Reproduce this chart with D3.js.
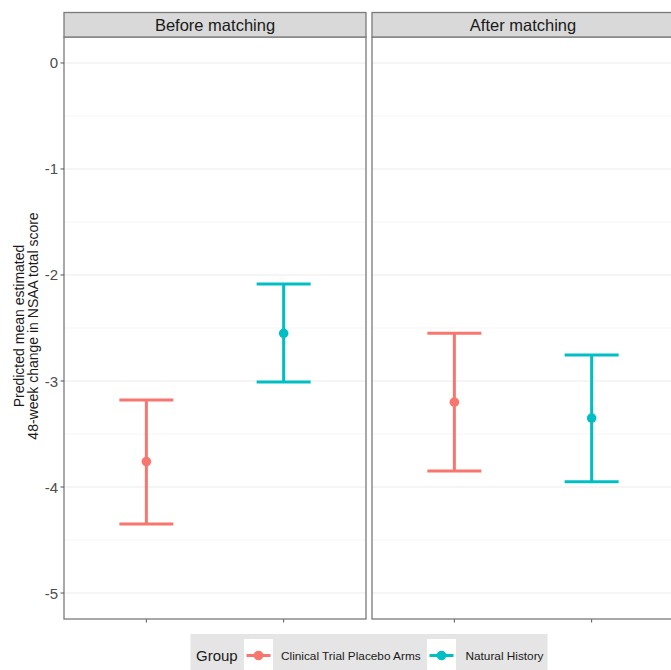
<!DOCTYPE html>
<html><head><meta charset="utf-8">
<script src="https://cdn.jsdelivr.net/npm/d3@7"></script>
<style>body{margin:0;background:#fff}svg{display:block;font-family:"Liberation Sans",Arial,sans-serif}</style>
</head><body><svg id="c" width="671" height="670"></svg>
<script>
const panels = ["Before matching", "After matching"];
const groups = ["Clinical Trial Placebo Arms", "Natural History"];
const colors = ["#F8766D", "#00BFC4"];
const estimate = [[-3.76, -2.55], [-3.20, -3.35]];
const upper = [[-3.18, -2.085], [-2.55, -2.755]];
const lower = [[-4.35, -3.01], [-3.85, -3.95]];
const yTicks = [0, -1, -2, -3, -4, -5];
const yMinor = [-0.5, -1.5, -2.5, -3.5, -4.5];

const svg = d3.select("#c");
const pTop = 37, pBottom = 619, panelW = 302, gap = 6, left0 = 64;
const y = d3.scaleLinear().domain([-5.245, 0.245]).range([pBottom, pTop]);

panels.forEach((p, i) => {
  const x0 = left0 + i * (panelW + gap);
  const x = d3.scalePoint().domain(groups).range([x0, x0 + panelW]).padding(0.6);
  const g = svg.append("g");
  g.append("rect").attr("x", x0).attr("y", pTop).attr("width", panelW).attr("height", pBottom - pTop).attr("fill", "#fff");
  g.selectAll(".mn").data(yMinor).join("line").attr("x1", x0).attr("x2", x0 + panelW)
    .attr("y1", d => y(d)).attr("y2", d => y(d)).attr("stroke", "#f3f3f3").attr("stroke-width", 0.8);
  g.selectAll(".mj").data(yTicks).join("line").attr("x1", x0).attr("x2", x0 + panelW)
    .attr("y1", d => y(d)).attr("y2", d => y(d)).attr("stroke", "#ebebeb").attr("stroke-width", 1.1);
  groups.forEach((gr, j) => {
    const cx = x(gr), c = colors[j], hw = 27;
    g.append("line").attr("x1", cx).attr("x2", cx).attr("y1", y(upper[i][j])).attr("y2", y(lower[i][j]))
      .attr("stroke", c).attr("stroke-width", 3);
    [upper[i][j], lower[i][j]].forEach(v => g.append("line").attr("x1", cx - hw).attr("x2", cx + hw)
      .attr("y1", y(v)).attr("y2", y(v)).attr("stroke", c).attr("stroke-width", 3));
    g.append("circle").attr("cx", cx).attr("cy", y(estimate[i][j])).attr("r", 4.8).attr("fill", c);
    g.append("line").attr("x1", cx).attr("x2", cx).attr("y1", pBottom).attr("y2", pBottom + 3.5)
      .attr("stroke", "#555").attr("stroke-width", 1);
  });
  g.append("rect").attr("x", x0).attr("y", pTop).attr("width", panelW).attr("height", pBottom - pTop)
    .attr("fill", "none").attr("stroke", "#7a7a7a").attr("stroke-width", 1.3);
  g.append("rect").attr("x", x0).attr("y", 12.5).attr("width", panelW).attr("height", pTop - 12.5)
    .attr("fill", "#d9d9d9").attr("stroke", "#7a7a7a").attr("stroke-width", 1.3);
  g.append("text").attr("x", x0 + panelW / 2).attr("y", 31).attr("text-anchor", "middle")
    .attr("font-size", 16.5).attr("fill", "#1a1a1a").text(p);
});

const ya = svg.append("g");
ya.selectAll("line").data(yTicks).join("line").attr("x1", left0 - 3.5).attr("x2", left0)
  .attr("y1", d => y(d)).attr("y2", d => y(d)).attr("stroke", "#555");
ya.selectAll("text").data(yTicks).join("text").attr("x", left0 - 6).attr("y", d => y(d) + 5.5)
  .attr("text-anchor", "end").attr("font-size", 15).attr("fill", "#4d4d4d").text(d => d);
const yt = svg.append("text").attr("transform", `translate(0,${(pTop + pBottom) / 2 - 2}) rotate(-90)`)
  .attr("text-anchor", "middle").attr("font-size", 14).attr("fill", "#1a1a1a");
yt.append("tspan").attr("x", 0).attr("y", 23.5).text("Predicted mean estimated");
yt.append("tspan").attr("x", 0).attr("y", 38).text("48-week change in NSAA total score");

const lg = svg.append("g");
lg.append("rect").attr("x", 190.5).attr("y", 634).attr("width", 357).attr("height", 40).attr("fill", "#e5e5e5");
lg.append("text").attr("x", 196).attr("y", 661).attr("font-size", 15).attr("fill", "#1a1a1a").text("Group");
const keyX = [244, 427], labX = [281, 465.5];
groups.forEach((gr, j) => {
  lg.append("rect").attr("x", keyX[j]).attr("y", 639).attr("width", 29).attr("height", 35).attr("fill", "#fff");
  const cy = 655.5, cx = keyX[j] + 14.5;
  lg.append("line").attr("x1", cx - 12).attr("x2", cx + 12).attr("y1", cy).attr("y2", cy)
    .attr("stroke", colors[j]).attr("stroke-width", 3);
  lg.append("circle").attr("cx", cx).attr("cy", cy).attr("r", 4.8).attr("fill", colors[j]);
  lg.append("text").attr("x", labX[j]).attr("y", 660).attr("font-size", 11.8).attr("fill", "#1a1a1a").text(gr);
});
</script></body></html>
